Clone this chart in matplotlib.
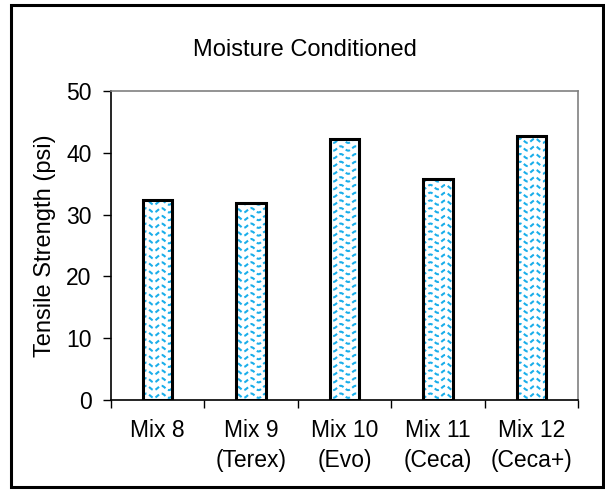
import matplotlib
matplotlib.use("Agg")
import matplotlib.pyplot as plt
import numpy as np
from matplotlib.patches import Rectangle

plt.rcParams['font.family'] = ['Liberation Sans', 'DejaVu Sans']

mixes = ["Mix 8", "Mix 9\n(Terex)", "Mix 10\n(Evo)", "Mix 11\n(Ceca)", "Mix 12\n(Ceca+)"]
tensile = [32.4, 31.8, 42.2, 35.8, 42.7]

wave_color = "#1aaeea"

fig = plt.figure(figsize=(6.05, 4.95), dpi=100)
ax = fig.add_axes([111/605, 1-400/495, (578-111)/605, (400-91)/495])

x = np.arange(len(mixes))
bars = ax.bar(x, tensile, width=0.315, facecolor="none", edgecolor="black",
              linewidth=2.2, zorder=3)

# wavy dashed fill pattern, clipped to each bar
xs = np.linspace(-0.5, len(mixes) - 0.5, 3000)
for b in bars:
    for row in np.arange(0.7, 50, 1.25):
        ln, = ax.plot(xs, row + 0.35*np.sin(2*np.pi*xs/0.16), color=wave_color,
                      lw=1.5, ls=(0, (2.2, 1.4)), zorder=2.5)
        ln.set_clip_path(b)

ax.set_xlim(-0.5, len(mixes) - 0.5)
ax.set_ylim(0, 50)
ax.set_yticks([0, 10, 20, 30, 40, 50])
ax.set_xticks(x)
ax.set_xticklabels(mixes, linespacing=1.35)
ax.set_xticks(np.arange(-0.5, len(mixes), 1), minor=True)
ax.tick_params(axis='x', which='major', length=0, labelsize=16.5, pad=14)
ax.tick_params(axis='x', which='minor', length=6, direction='out', width=1)
ax.tick_params(axis='y', length=6, direction='out', width=1, labelsize=16.5, pad=8)

ax.spines['left'].set_color('black')
ax.spines['bottom'].set_color('black')
ax.spines['top'].set_color('#808080')
ax.spines['right'].set_color('#808080')
for s in ax.spines.values():
    s.set_linewidth(1.2)

ax.set_ylabel("Tensile Strength (psi)", fontsize=17, labelpad=7)
fig.text(305/605, 1-50/495, "Moisture Conditioned", ha='center', va='center',
         fontsize=17)

fig.patches.append(Rectangle((11/605, 1-487/495), (603-11)/605, (487-5)/495,
                             transform=fig.transFigure, fill=False,
                             edgecolor='black', linewidth=2.2))

fig.savefig("out.png", dpi=100)
